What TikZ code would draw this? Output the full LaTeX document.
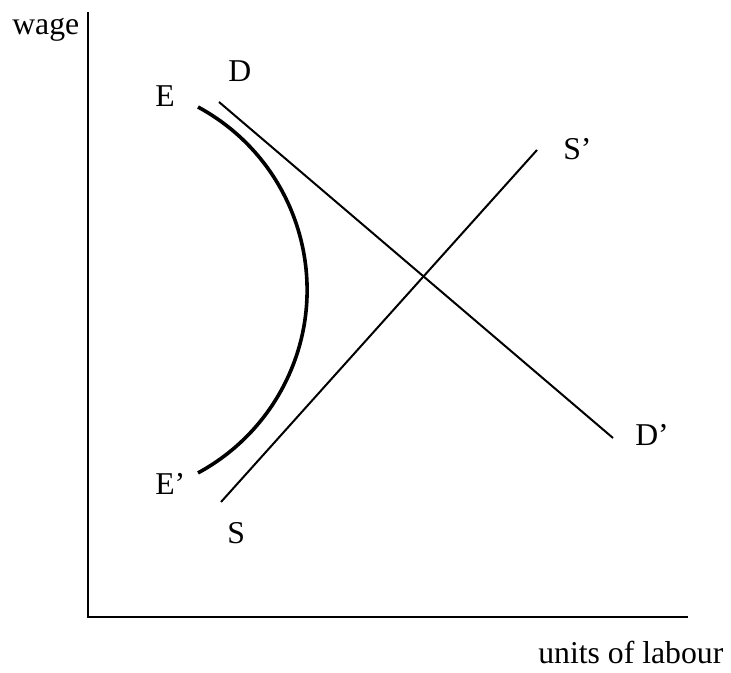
\documentclass[tikz,border=0pt]{standalone}
\usepackage{fontspec}
\setmainfont{Liberation Serif}
\usepackage{tikz}
\usetikzlibrary{positioning,calc}
\tikzset{
  axisline/.style={draw=black,line width=1.5pt},
  curveline/.style={draw=black,line width=1.5pt},
  boldcurve/.style={draw=black,line width=2.7pt},
  curvelabel/.style={inner sep=0pt,anchor=base west,font=\fontsize{23.8}{28}\selectfont},
}
\begin{document}
\begin{tikzpicture}[x=0.75pt,y=0.75pt]
  \useasboundingbox (0,0) rectangle (731,672);
  % Axes
  \coordinate (top) at (88,660);
  \coordinate (origin) at (88,55);
  \coordinate (right) at (688,55);
  \draw[axisline] (top) -- (origin) -- (right);
  \node[curvelabel] (wage) at (12,637) {wage};
  \node[curvelabel] (units) at (538,9) {units of labour};

  % Demand and supply
  \coordinate (dtop) at (219,570);
  \coordinate (dbot) at (613,234);
  \coordinate (sbot) at (221,170);
  \coordinate (stop) at (537,522);
  \draw[curveline] (dtop) -- (dbot);
  \draw[curveline] (sbot) -- (stop);
  \node[curvelabel] (D) at (228,590) {D};
  \node[curvelabel] (Dp) at (635,227) {D'};
  \node[curvelabel] (S) at (227,129) {S};
  \node[curvelabel] (Sp) at (563,512) {S'};

  % E curve
  \coordinate (etop) at (198,565);
  \draw[boldcurve] (etop) arc[start angle=61.6,end angle=-61.6,radius=156pt];
  \node[curvelabel] (E) at (155,565) {E};
  \node[curvelabel] (Ep) at (155,178) {E'};
\end{tikzpicture}
\end{document}
